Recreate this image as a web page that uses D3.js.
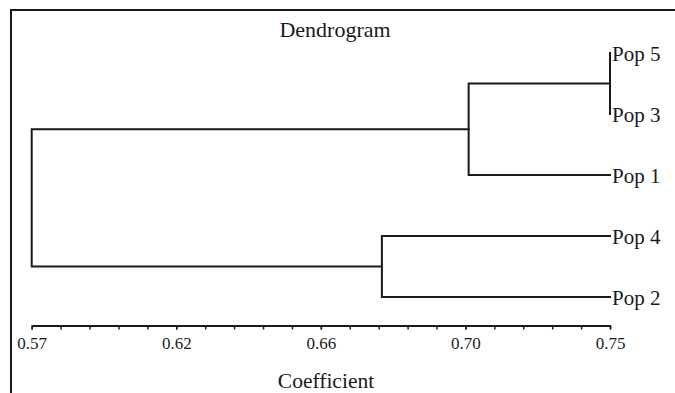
<!DOCTYPE html>
<html>
<head>
<meta charset="utf-8">
<script src="https://cdn.jsdelivr.net/npm/d3@7"></script>
<style>
  html, body { margin: 0; padding: 0; background: #fff; }
  svg { display: block; }
  svg text { font-family: "Liberation Serif", "Times New Roman", serif; }
</style>
</head>
<body>
<svg id="chart" width="675" height="393"></svg>
<script>
// ---- data ----
const leaves = ["Pop 5", "Pop 3", "Pop 1", "Pop 4", "Pop 2"];
const mergeIds   = ["C1", "C2", "C3", "C4"];
const mergeLeft  = ["Pop 5", "C1", "Pop 4", "C2"];
const mergeRight = ["Pop 3", "Pop 1", "Pop 2", "C3"];
const mergeCoef  = [0.75, 0.706, 0.679, 0.57];
const leafCoef = 0.75;
const axisDomain = [0.57, 0.75];
const majorTicks = [0.57, 0.615, 0.66, 0.705, 0.75];
const tickLabels = ["0.57", "0.62", "0.66", "0.70", "0.75"];
const minorStep = 0.009;
const title = "Dendrogram";
const xTitle = "Coefficient";

// ---- layout ----
const svg = d3.select("#chart");
const ink = "#1a1a1a";
const serif = "'Liberation Serif', 'Times New Roman', serif";

const x = d3.scaleLinear().domain(axisDomain).range([31.7, 610]);
const yLeaf = d3.scalePoint().domain(leaves).range([53, 297]);

// frame (top and left edges)
svg.append("line").attr("x1", 11).attr("x2", 675).attr("y1", 10).attr("y2", 10)
  .attr("stroke", ink).attr("stroke-width", 2);
svg.append("line").attr("x1", 11).attr("x2", 11).attr("y1", 9).attr("y2", 393)
  .attr("stroke", ink).attr("stroke-width", 2);

// node positions
const pos = {};
leaves.forEach(l => { pos[l] = { x: x(leafCoef), y: yLeaf(l) }; });
mergeIds.forEach((id, i) => {
  const a = pos[mergeLeft[i]], b = pos[mergeRight[i]];
  pos[id] = { x: x(mergeCoef[i]), y: (a.y + b.y) / 2 };
});

const g = svg.append("g").attr("fill", "none").attr("stroke", ink)
  .attr("stroke-width", 2).attr("stroke-linecap", "square");
mergeIds.forEach((id, i) => {
  const n = pos[id], a = pos[mergeLeft[i]], b = pos[mergeRight[i]];
  const path = d3.path();
  path.moveTo(a.x, a.y);
  path.lineTo(n.x, a.y);
  path.lineTo(n.x, b.y);
  path.lineTo(b.x, b.y);
  g.append("path").attr("d", path.toString());
});

// leaf labels
svg.append("g").selectAll("text").data(leaves).join("text")
  .attr("x", x(leafCoef) + 2)
  .attr("y", d => yLeaf(d))
  .attr("dy", "0.38em")
  .attr("font-family", serif)
  .attr("font-size", 21)
  .attr("fill", ink)
  .text(d => d);

// axis
const axisY = 325.5;
const minorTicks = d3.range(0, 21).map(i => axisDomain[0] + i * minorStep);
const axisMinor = d3.axisBottom(x).tickValues(minorTicks).tickSize(4).tickSizeOuter(0).tickFormat("");
const gMinor = svg.append("g").attr("transform", `translate(0,${axisY})`).call(axisMinor);
gMinor.select(".domain").attr("stroke", ink).attr("stroke-width", 2);
gMinor.selectAll(".tick line").attr("stroke", ink).attr("stroke-width", 1.5);

const axisMajor = d3.axisBottom(x).tickValues(majorTicks).tickSize(4).tickSizeOuter(0)
  .tickFormat((d, i) => tickLabels[i]);
const gMajor = svg.append("g").attr("transform", `translate(0,${axisY})`).call(axisMajor);
gMajor.attr("font-family", serif).attr("font-size", 17);
gMajor.select(".domain").remove();
gMajor.selectAll(".tick line").attr("stroke", ink).attr("stroke-width", 1.5);
gMajor.selectAll(".tick text")
  .attr("font-family", serif)
  .attr("font-size", 17)
  .attr("fill", ink)
  .attr("y", 0).attr("dy", 0)
  .attr("transform", "translate(0,23.5)");

// titles
svg.append("text").attr("x", 335).attr("y", 36.5).attr("text-anchor", "middle")
  .attr("font-family", serif).attr("font-size", 22).attr("fill", ink).text(title);
svg.append("text").attr("x", 326).attr("y", 388).attr("text-anchor", "middle")
  .attr("font-family", serif).attr("font-size", 21.5).attr("fill", ink).text(xTitle);
</script>
</body>
</html>
